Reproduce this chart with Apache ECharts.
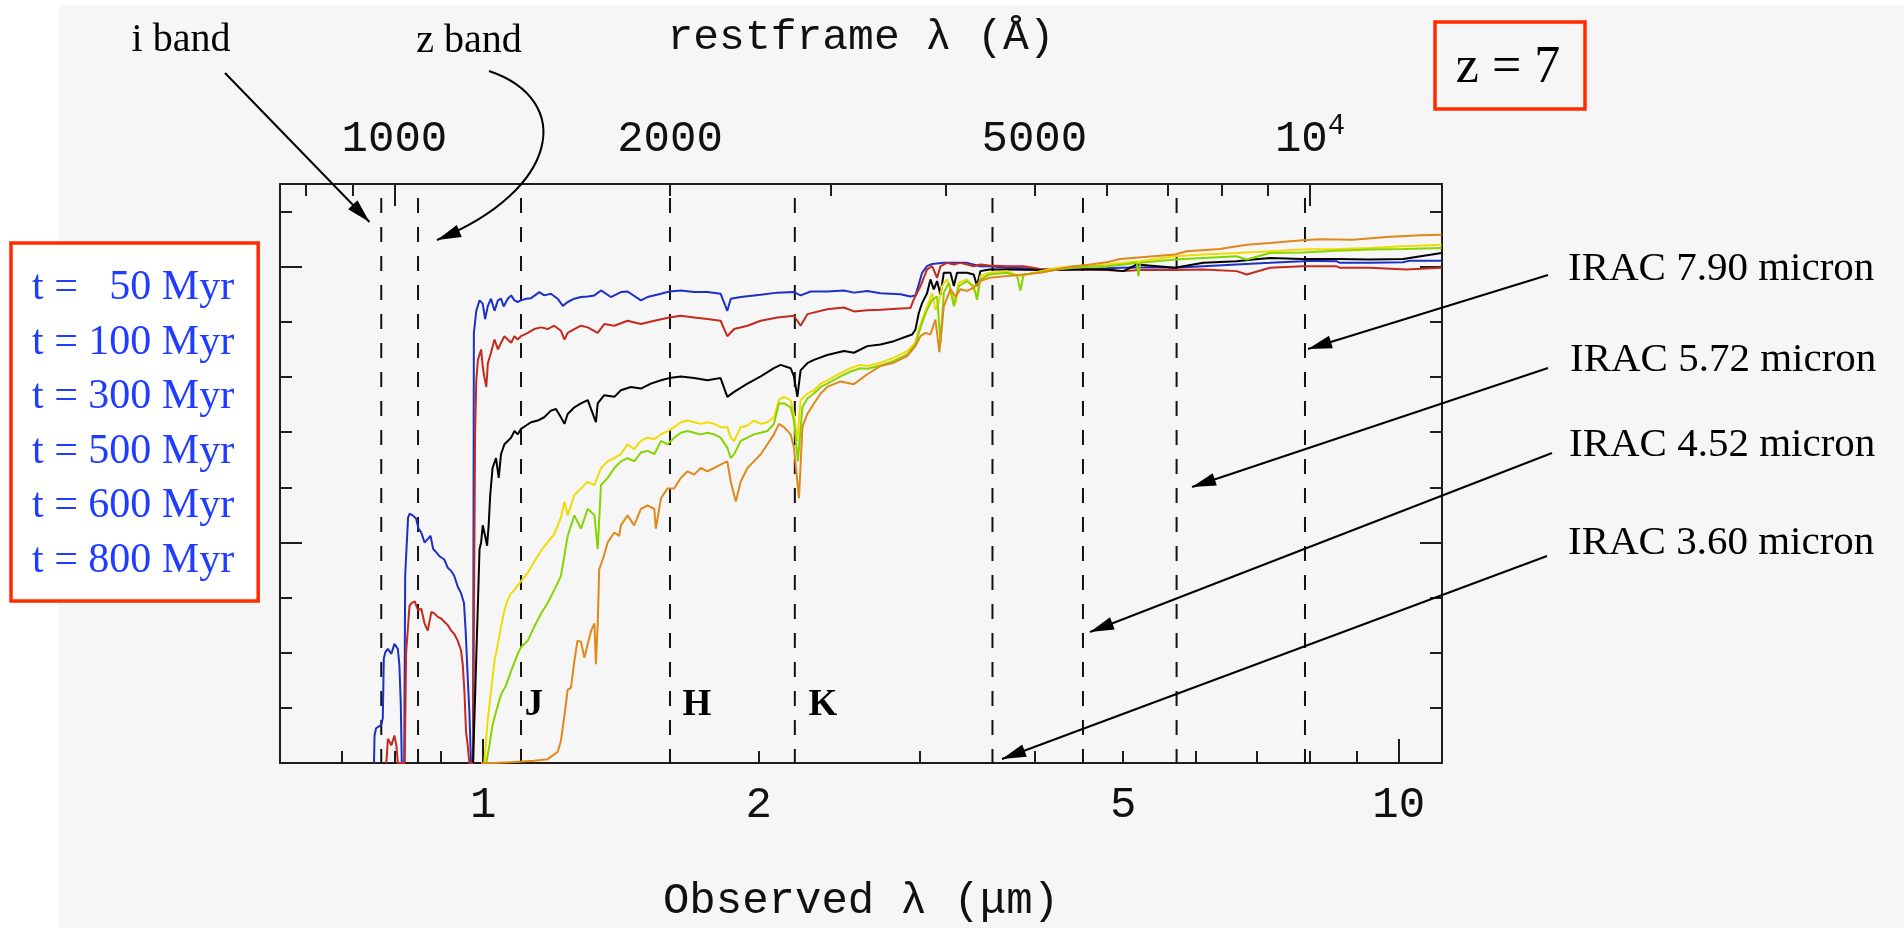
<!DOCTYPE html>
<html>
<head>
<meta charset="utf-8">
<title>Model SEDs at z = 7</title>
<script src="https://cdn.jsdelivr.net/npm/echarts@6/dist/echarts.min.js"></script>
<style>
  html, body { margin: 0; padding: 0; background: #ffffff; }
  #chart { width: 1904px; height: 928px; }
</style>
</head>
<body>
<div id="chart"></div>
<script>
// ---- Model spectra: observed wavelength (micron) vs. relative flux level ----
const redshift = 7;

const ageLabels = ['t =   50 Myr', 't = 100 Myr', 't = 300 Myr', 't = 500 Myr', 't = 600 Myr', 't = 800 Myr'];
const ageColors = ['#1c30c8', '#c42a1e', '#000000', '#f0dc00', '#86d400', '#e0881a'];

const sed50 = [[0.760,0],[0.761,0.50],[0.764,0.63],[0.774,0.69],[0.777,0.81],[0.779,1.90],[0.782,2.01],[0.787,2.07],[0.794,1.98],[0.800,2.16],[0.807,2.07],[0.810,1.79],[0.813,1.06],[0.815,0],[0.820,0],[0.822,3.40],[0.824,3.75],[0.828,4.45],[0.831,4.52],[0.838,4.49],[0.845,4.43],[0.850,4.25],[0.856,4.18],[0.863,4.00],[0.870,4.06],[0.876,4.12],[0.882,3.88],[0.889,3.82],[0.896,3.75],[0.907,3.69],[0.915,3.54],[0.923,3.48],[0.930,3.39],[0.938,3.20],[0.946,3.08],[0.953,2.90],[0.957,2.40],[0.962,1.55],[0.966,0.93],[0.970,0],[0.975,0],[0.977,7.80],[0.983,8.20],[0.991,8.39],[0.999,8.33],[1.005,8.05],[1.012,8.29],[1.020,8.42],[1.029,8.20],[1.038,8.39],[1.046,8.42],[1.053,8.28],[1.064,8.42],[1.073,8.48],[1.082,8.39],[1.091,8.36],[1.100,8.39],[1.114,8.42],[1.128,8.43],[1.152,8.54],[1.166,8.48],[1.186,8.51],[1.206,8.42],[1.222,8.29],[1.237,8.36],[1.258,8.42],[1.279,8.45],[1.301,8.46],[1.323,8.48],[1.345,8.57],[1.379,8.45],[1.414,8.54],[1.438,8.55],[1.487,8.39],[1.512,8.45],[1.564,8.51],[1.597,8.55],[1.644,8.57],[1.700,8.54],[1.758,8.54],[1.817,8.51],[1.848,8.20],[1.864,8.42],[1.911,8.45],[2.010,8.49],[2.096,8.53],[2.185,8.54],[2.222,8.48],[2.279,8.55],[2.376,8.55],[2.478,8.57],[2.541,8.53],[2.628,8.56],[2.717,8.52],[2.856,8.50],[2.929,8.46],[2.966,8.48],[2.991,8.68],[3.016,8.89],[3.054,9.01],[3.093,9.05],[3.185,9.07],[3.293,9.07],[3.377,9.07],[3.492,9.01],[3.572,9.01],[3.734,8.98],[3.894,8.97],[4.060,8.95],[4.233,8.94],[4.414,8.95],[4.603,8.96],[4.800,8.97],[4.963,8.98],[5.396,8.99],[5.697,8.98],[6.117,9.01],[6.653,9.04],[7.235,9.07],[7.847,9.10],[7.932,9.11],[8.551,9.10],[8.625,9.07],[9.299,9.07],[10.11,9.08],[10.28,9.11],[11.14,9.11]];

const sed100 = [[0.784,0],[0.787,0.44],[0.794,0.32],[0.800,0.50],[0.804,0.32],[0.807,0],[0.821,0],[0.824,2.00],[0.831,2.85],[0.835,2.90],[0.842,2.93],[0.849,2.77],[0.856,2.80],[0.863,2.53],[0.870,2.40],[0.878,2.74],[0.885,2.71],[0.892,2.65],[0.900,2.62],[0.907,2.56],[0.915,2.50],[0.923,2.40],[0.930,2.34],[0.938,2.22],[0.946,2.04],[0.950,1.79],[0.954,1.30],[0.958,0.56],[0.962,0.32],[0.966,0],[0.975,0],[0.980,6.00],[0.983,6.94],[0.987,7.31],[0.995,7.50],[0.999,7.19],[1.003,7.00],[1.008,6.82],[1.012,7.25],[1.020,7.44],[1.029,7.68],[1.038,7.50],[1.046,7.62],[1.055,7.74],[1.064,7.68],[1.073,7.62],[1.082,7.74],[1.091,7.68],[1.100,7.74],[1.119,7.80],[1.137,7.87],[1.157,7.90],[1.176,7.87],[1.196,7.93],[1.216,7.84],[1.227,7.68],[1.237,7.80],[1.258,7.87],[1.279,7.93],[1.301,7.90],[1.334,7.80],[1.356,7.96],[1.391,7.93],[1.438,8.02],[1.487,7.96],[1.538,8.02],[1.597,8.08],[1.644,8.11],[1.700,8.08],[1.758,8.05],[1.817,8.02],[1.848,7.74],[1.880,7.87],[1.944,7.93],[2.010,8.02],[2.096,8.08],[2.185,8.11],[2.222,7.93],[2.260,8.14],[2.376,8.23],[2.478,8.26],[2.541,8.19],[2.628,8.21],[2.717,8.22],[2.856,8.24],[2.929,8.25],[2.954,8.41],[3.004,8.65],[3.054,8.95],[3.093,9.01],[3.132,8.80],[3.159,9.01],[3.212,9.07],[3.267,9.04],[3.321,9.07],[3.377,9.04],[3.434,9.01],[3.492,9.04],[3.572,9.02],[3.734,9.01],[3.894,9.01],[4.060,8.96],[4.233,8.95],[4.414,8.95],[4.603,8.95],[4.800,8.94],[5.004,8.92],[5.219,8.94],[5.697,8.94],[6.117,8.95],[6.653,8.92],[6.823,8.86],[7.235,8.98],[7.847,9.01],[8.551,9.01],[8.625,8.98],[9.299,8.98],[10.19,8.95],[11.14,8.98]];

const sed300 = [[0.975,0],[0.987,2.90],[0.991,3.88],[0.995,4.00],[0.999,4.31],[1.005,4.12],[1.010,3.94],[1.014,4.31],[1.018,4.86],[1.024,5.35],[1.033,5.53],[1.040,5.17],[1.046,5.60],[1.055,5.78],[1.064,5.84],[1.073,5.90],[1.082,6.02],[1.091,5.96],[1.100,6.06],[1.114,6.12],[1.128,6.18],[1.147,6.21],[1.166,6.27],[1.186,6.39],[1.201,6.42],[1.216,6.27],[1.227,6.15],[1.237,6.33],[1.258,6.45],[1.279,6.52],[1.301,6.58],[1.328,6.18],[1.334,6.52],[1.356,6.67],[1.391,6.64],[1.414,6.76],[1.450,6.82],[1.487,6.79],[1.525,6.88],[1.564,6.94],[1.597,6.98],[1.644,7.01],[1.700,6.98],[1.758,6.94],[1.817,6.98],[1.848,6.64],[1.880,6.73],[1.944,6.88],[2.010,7.01],[2.078,7.16],[2.113,7.22],[2.167,7.16],[2.185,7.01],[2.204,6.64],[2.222,7.12],[2.260,7.25],[2.298,7.31],[2.376,7.40],[2.478,7.47],[2.541,7.44],[2.628,7.56],[2.717,7.59],[2.809,7.65],[2.905,7.74],[2.942,7.77],[2.966,7.86],[2.991,8.16],[3.016,8.34],[3.054,8.52],[3.080,8.77],[3.106,8.59],[3.132,8.74],[3.159,8.49],[3.185,8.89],[3.239,8.89],[3.267,8.65],[3.293,8.89],[3.377,8.89],[3.434,8.86],[3.463,8.65],[3.492,8.92],[3.572,8.95],[3.734,8.95],[4.060,8.94],[4.414,8.95],[4.800,8.95],[5.004,8.92],[5.176,9.04],[5.697,8.98],[6.117,9.07],[6.653,9.10],[6.937,9.13],[7.235,9.16],[7.847,9.14],[8.551,9.14],[9.299,9.13],[10.11,9.14],[11.14,9.25]];

const sed500 = [[1.003,0],[1.012,0.81],[1.020,1.30],[1.029,1.85],[1.038,2.16],[1.046,2.47],[1.055,2.77],[1.064,2.96],[1.073,3.08],[1.082,3.14],[1.100,3.30],[1.119,3.45],[1.137,3.65],[1.157,3.85],[1.176,4.00],[1.196,4.15],[1.216,4.45],[1.227,4.74],[1.237,4.49],[1.258,4.86],[1.279,4.98],[1.301,5.10],[1.323,5.04],[1.345,5.35],[1.368,5.47],[1.391,5.53],[1.414,5.60],[1.438,5.78],[1.462,5.69],[1.487,5.84],[1.512,5.90],[1.538,5.87],[1.564,5.96],[1.590,6.02],[1.617,6.09],[1.644,6.18],[1.672,6.21],[1.700,6.18],[1.729,6.15],[1.758,6.18],[1.788,6.15],[1.817,6.09],[1.848,6.09],[1.864,5.90],[1.880,5.84],[1.911,6.09],[1.944,6.12],[1.976,6.21],[2.010,6.15],[2.044,6.18],[2.078,6.27],[2.104,6.58],[2.131,6.64],[2.167,6.58],[2.185,6.33],[2.204,5.84],[2.222,6.58],[2.260,6.70],[2.298,6.76],[2.337,6.88],[2.376,6.94],[2.457,7.07],[2.519,7.16],[2.584,7.22],[2.628,7.20],[2.717,7.26],[2.809,7.35],[2.905,7.47],[2.966,7.62],[2.991,7.86],[3.016,8.04],[3.054,8.28],[3.093,8.52],[3.119,8.22],[3.145,8.34],[3.172,8.65],[3.212,8.77],[3.253,8.52],[3.281,8.34],[3.307,8.71],[3.377,8.77],[3.434,8.59],[3.463,8.47],[3.492,8.83],[3.572,8.89],[3.734,8.92],[3.862,8.83],[4.060,8.92],[4.233,8.98],[4.414,9.01],[4.603,9.01],[4.800,9.04],[5.004,9.07],[5.219,9.10],[5.697,9.19],[6.117,9.22],[6.653,9.25],[7.235,9.28],[7.847,9.31],[8.551,9.32],[9.299,9.34],[10.11,9.37],[11.14,9.40]];

const sed600 = [[1.008,0],[1.016,0.32],[1.024,0.69],[1.033,0.93],[1.046,1.24],[1.060,1.42],[1.073,1.67],[1.091,1.98],[1.100,2.10],[1.119,2.22],[1.137,2.47],[1.157,2.71],[1.176,2.90],[1.196,3.14],[1.216,3.39],[1.237,4.12],[1.258,4.49],[1.279,4.25],[1.301,4.61],[1.323,4.49],[1.334,3.88],[1.345,5.04],[1.368,5.17],[1.391,5.35],[1.414,5.47],[1.438,5.53],[1.462,5.47],[1.487,5.63],[1.512,5.66],[1.538,5.60],[1.564,5.84],[1.590,5.78],[1.617,5.90],[1.644,5.99],[1.672,6.02],[1.700,5.99],[1.729,5.96],[1.758,5.99],[1.788,5.96],[1.817,5.90],[1.848,5.72],[1.864,5.53],[1.880,5.60],[1.911,5.84],[1.944,5.90],[1.976,5.96],[2.010,5.99],[2.044,6.02],[2.078,6.15],[2.104,6.52],[2.131,6.52],[2.167,6.45],[2.185,6.21],[2.207,5.47],[2.232,6.45],[2.260,6.61],[2.298,6.70],[2.337,6.82],[2.376,6.88],[2.457,7.01],[2.519,7.10],[2.584,7.16],[2.628,7.15],[2.717,7.21],[2.809,7.29],[2.905,7.41],[2.966,7.59],[2.991,7.80],[3.016,7.98],[3.054,8.22],[3.093,8.40],[3.132,8.46],[3.159,7.62],[3.185,8.53],[3.226,8.71],[3.267,8.28],[3.307,8.65],[3.377,8.74],[3.434,8.65],[3.463,8.40],[3.492,8.77],[3.572,8.86],[3.734,8.89],[3.830,8.83],[3.862,8.57],[3.894,8.86],[4.060,8.90],[4.233,8.95],[4.414,8.98],[4.603,9.00],[4.800,9.01],[5.004,9.04],[5.176,9.07],[5.197,8.83],[5.219,9.07],[5.697,9.13],[6.117,9.16],[6.653,9.19],[6.823,9.13],[7.235,9.25],[7.847,9.26],[8.551,9.29],[9.299,9.31],[10.11,9.32],[11.14,9.34]];

const sed800 = [[0.995,0],[1.029,0],[1.082,0.02],[1.137,0.04],[1.176,0.07],[1.206,0.20],[1.216,0.40],[1.227,0.87],[1.237,1.33],[1.247,1.36],[1.258,1.85],[1.268,2.22],[1.279,2.20],[1.290,1.91],[1.301,2.16],[1.312,2.40],[1.323,2.53],[1.328,1.79],[1.334,2.53],[1.339,3.51],[1.351,3.69],[1.368,4.00],[1.391,4.18],[1.408,4.12],[1.414,4.31],[1.438,4.49],[1.462,4.31],[1.487,4.61],[1.512,4.67],[1.538,4.61],[1.544,4.25],[1.564,4.80],[1.590,4.98],[1.617,4.98],[1.644,5.17],[1.672,5.29],[1.700,5.23],[1.729,5.35],[1.758,5.29],[1.788,5.35],[1.817,5.41],[1.848,5.47],[1.864,5.10],[1.888,4.74],[1.911,5.10],[1.944,5.35],[1.976,5.47],[2.010,5.60],[2.044,5.78],[2.078,5.96],[2.104,6.15],[2.131,6.09],[2.167,5.96],[2.185,5.72],[2.213,4.80],[2.232,6.09],[2.260,6.33],[2.298,6.52],[2.337,6.70],[2.376,6.82],[2.457,6.92],[2.541,6.87],[2.628,7.05],[2.717,7.20],[2.809,7.26],[2.905,7.38],[2.966,7.56],[3.004,7.74],[3.042,7.80],[3.080,7.77],[3.119,8.04],[3.150,7.45],[3.185,8.28],[3.239,8.59],[3.281,8.46],[3.321,8.59],[3.377,8.56],[3.434,8.62],[3.492,8.74],[3.572,8.80],[3.734,8.83],[3.894,8.86],[4.060,8.89],[4.233,8.95],[4.414,9.01],[4.603,9.04],[4.800,9.08],[4.963,9.14],[5.396,9.19],[5.697,9.22],[5.867,9.28],[6.378,9.32],[6.823,9.40],[7.235,9.43],[7.847,9.48],[8.203,9.50],[8.917,9.49],[9.697,9.54],[10.54,9.57],[11.14,9.58]];

// filter positions (micron)
const bandEdges = [0.774, 0.849, 1.10, 1.60, 2.19];
const iracBands = [3.60, 4.52, 5.72, 7.90];
const iracLabels = ['IRAC 7.90 micron', 'IRAC 5.72 micron', 'IRAC 4.52 micron', 'IRAC 3.60 micron'];
const nirLabels = ['J', 'H', 'K'];

// axis ticks and labels
const obsTicksMajor = [1, 10];
const obsTicksMinor = [0.7, 0.8, 0.9, 2, 3, 4, 5, 6, 7, 8, 9];
const obsLabels = [1, 2, 5, 10];
const restTicksMajor = [1000, 10000];
const restTicksMinor = [800, 900, 2000, 3000, 4000, 5000, 6000, 7000, 8000, 9000];
const restLabels = [1000, 2000, 5000, 10000];
const levelTicksMajor = [4, 9];
const levelTicksMinor = [1, 2, 3, 5, 6, 7, 8, 10];

// ---- chart ----
const obsMin = 0.6, obsMax = 11.15;
const restMin = obsMin * 1e4 / (1 + redshift);
const restMax = obsMax * 1e4 / (1 + redshift);
const levelMin = 0, levelMax = 10.5;

const INK = '#1e1e1e';
const MONO = 'Liberation Mono';
const SERIF = 'Liberation Serif';
const BOX_RED = '#ff2a00';

const tickStyle = { color: INK, width: 2 };
const frameLine = { show: true, onZero: false, lineStyle: { color: INK, width: 2 } };

function xAx(position, min, max, ticks, len, withLine, extra) {
  return Object.assign({
    type: 'log', logBase: 10, position, min, max,
    axisLine: withLine ? frameLine : { show: false, onZero: false },
    axisTick: { show: true, inside: true, length: len, customValues: ticks, lineStyle: tickStyle },
    axisLabel: { show: false },
    minorTick: { show: false },
    splitLine: { show: false },
    axisPointer: { show: false }
  }, extra || {});
}
function yAx(position, ticks, len, withLine) {
  return {
    type: 'value', position, min: levelMin, max: levelMax,
    axisLine: withLine ? frameLine : { show: false, onZero: false },
    axisTick: { show: true, inside: true, length: len, customValues: ticks, lineStyle: tickStyle },
    axisLabel: { show: false },
    splitLine: { show: false }
  };
}

const xAxes = [
  xAx('bottom', obsMin, obsMax, obsTicksMajor, 24, true, {
    axisLabel: {
      show: true, customValues: obsLabels, margin: 20,
      fontFamily: MONO, fontSize: 44, lineHeight: 44, color: '#111',
      formatter: v => String(Math.round(v * 10) / 10)
    },
    name: 'Observed λ (μm)', nameLocation: 'middle', nameGap: 116,
    nameTextStyle: { fontFamily: MONO, fontSize: 44, lineHeight: 44, color: '#111' }
  }),
  xAx('bottom', obsMin, obsMax, obsTicksMinor, 12, false),
  xAx('top', restMin, restMax, restTicksMajor, 22, true, {
    axisLabel: {
      show: true, customValues: restLabels, margin: 23,
      fontFamily: MONO, fontSize: 44, lineHeight: 44, color: '#111',
      formatter: v => Math.round(v) === 10000 ? '{b|10}{s|4}' : String(Math.round(v)),
      rich: {
        b: { fontFamily: MONO, fontSize: 44, lineHeight: 44, color: '#111' },
        s: { fontFamily: MONO, fontSize: 29, lineHeight: 29, color: '#111', padding: [0, 0, 26, 0] }
      }
    },
    name: 'restframe λ (Å)', nameLocation: 'middle', nameGap: 125,
    nameTextStyle: { fontFamily: MONO, fontSize: 43, lineHeight: 43, color: '#111' }
  }),
  xAx('top', restMin, restMax, restTicksMinor, 12, false)
];

const yAxes = [
  yAx('left', levelTicksMajor, 22, true),
  yAx('left', levelTicksMinor, 12, false),
  yAx('right', levelTicksMajor, 22, true),
  yAx('right', levelTicksMinor, 12, false)
];

const spectra = [sed50, sed100, sed300, sed500, sed600, sed800];
const ageSeries = spectra.map((d, i) => ({
  name: ageLabels[i], type: 'line', data: d,
  xAxisIndex: 0, yAxisIndex: 0,
  symbol: 'none', showSymbol: false, smooth: false,
  lineStyle: { color: ageColors[i], width: 2 },
  itemStyle: { color: ageColors[i] },
  silent: true, animation: false, z: 3 + i
}));

const filterSeries = bandEdges.concat(iracBands).map(w => ({
  type: 'line', data: [[w, levelMax], [w, levelMin]],
  xAxisIndex: 0, yAxisIndex: 0,
  symbol: 'none', showSymbol: false,
  lineStyle: { color: '#111', width: 2, type: [15, 14], dashOffset: 15 },
  silent: true, animation: false, z: 2
}));

// ---- annotations (pixel layout) ----
function arrowHead(fx, fy, tx, ty) {
  const dx = tx - fx, dy = ty - fy, L = Math.hypot(dx, dy);
  const ux = dx / L, uy = dy / L, len = 24, hw = 6.5;
  const bx = tx - ux * len, by = ty - uy * len;
  return {
    type: 'polygon', silent: true, z: 20,
    shape: { points: [[tx, ty], [bx - uy * hw, by + ux * hw], [bx + uy * hw, by - ux * hw]] },
    style: { fill: '#000' }
  };
}
function straightArrow(x1, y1, x2, y2) {
  return [
    { type: 'line', silent: true, z: 20, shape: { x1, y1, x2, y2 }, style: { stroke: '#000', lineWidth: 2 } },
    arrowHead(x1, y1, x2, y2)
  ];
}
function textAt(text, x, y, size, opts) {
  return {
    type: 'text', silent: true, z: 20, x, y,
    style: Object.assign({ text, fontFamily: SERIF, fontSize: size, fill: '#000', align: 'center', verticalAlign: 'middle' }, (opts || {}))
  };
}

const zBand = { x1: 489, y1: 71, cpx1: 575, cpy1: 100, cpx2: 560, cpy2: 190, x2: 437, y2: 240 };

const graphics = [
  // page margins outside the grey canvas
  { type: 'rect', silent: true, z: 0, shape: { x: 0, y: 0, width: 59, height: 928 }, style: { fill: '#ffffff' } },
  { type: 'rect', silent: true, z: 0, shape: { x: 0, y: 0, width: 1904, height: 5 }, style: { fill: '#ffffff' } },
  // redshift tag
  { type: 'rect', silent: true, z: 20, shape: { x: 1435, y: 22, width: 150, height: 87 }, style: { fill: 'none', stroke: BOX_RED, lineWidth: 3.5 } },
  textAt('z = 7', 1508, 68, 52),
  // i / z band pointers
  textAt('i band', 181, 40, 40),
  textAt('z band', 469, 41, 40),
  ...straightArrow(225, 73, 369.5, 222),
  { type: 'bezierCurve', silent: true, z: 20, shape: zBand, style: { stroke: '#000', lineWidth: 2, fill: 'none' } },
  arrowHead(zBand.cpx2, zBand.cpy2, zBand.x2, zBand.y2),
  // near-IR band letters
  textAt(nirLabels[0], 534, 705, 37, { fontWeight: 'bold' }),
  textAt(nirLabels[1], 697, 705, 37, { fontWeight: 'bold' }),
  textAt(nirLabels[2], 823, 705, 37, { fontWeight: 'bold' }),
  // IRAC labels and pointers
  textAt(iracLabels[0], 1568, 269, 41, { align: 'left' }),
  textAt(iracLabels[1], 1570, 360, 41, { align: 'left' }),
  textAt(iracLabels[2], 1569, 445, 41, { align: 'left' }),
  textAt(iracLabels[3], 1568, 543, 41, { align: 'left' }),
  ...straightArrow(1548, 275, 1308, 349),
  ...straightArrow(1548, 368, 1192, 487),
  ...straightArrow(1552, 453, 1090, 632),
  ...straightArrow(1547, 556, 1002, 759)
];

const chart = echarts.init(document.getElementById('chart'), null, { renderer: 'canvas' });
chart.setOption({
  animation: false,
  backgroundColor: '#f6f6f6',
  grid: { left: 280, top: 184, right: 462, bottom: 163, containLabel: false },
  legend: {
    data: ageLabels,
    orient: 'vertical', left: 11, top: 243, z: 30,
    icon: 'none', itemWidth: 0, itemHeight: 44, itemGap: 10.6,
    padding: [23, 24, 18, 16],
    backgroundColor: '#ffffff', borderColor: BOX_RED, borderWidth: 3.5, borderRadius: 0,
    selectedMode: false,
    textStyle: { fontFamily: SERIF, fontSize: 42, lineHeight: 44, color: '#1f3cff' }
  },
  xAxis: xAxes,
  yAxis: yAxes,
  series: ageSeries.concat(filterSeries),
  graphic: { elements: graphics }
});
</script>
</body>
</html>
